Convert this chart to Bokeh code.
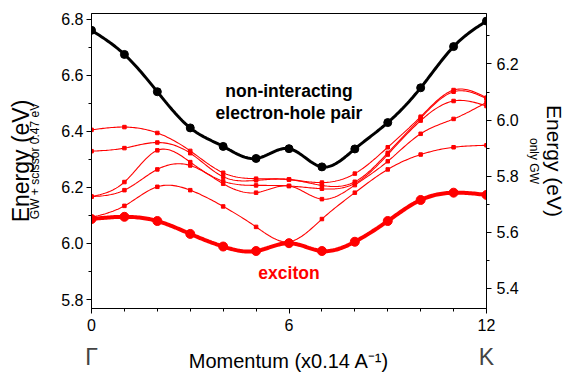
import numpy as np
from bokeh.plotting import figure
from bokeh.models import Range1d, LinearAxis, FixedTicker, Label, PrintfTickFormatter
from bokeh.embed import file_html
from bokeh.resources import INLINE

# ---------------- data ----------------
momentum = list(range(13))
pair = [6.760, 6.674, 6.541, 6.412, 6.346, 6.303, 6.338, 6.273, 6.337, 6.431, 6.555, 6.702, 6.793]
exciton = [6.087, 6.095, 6.080, 6.034, 5.989, 5.973, 6.001, 5.973, 6.006, 6.080, 6.155, 6.181, 6.173]
band_a = [6.405, 6.415, 6.394, 6.330, 6.252, 6.231, 6.228, 6.217, 6.249, 6.343, 6.452, 6.547, 6.520]
band_b = [6.329, 6.340, 6.360, 6.322, 6.238, 6.225, 6.228, 6.207, 6.220, 6.323, 6.447, 6.541, 6.517]
band_c = [6.167, 6.219, 6.332, 6.290, 6.222, 6.207, 6.205, 6.195, 6.214, 6.317, 6.438, 6.508, 6.490]
band_d = [6.167, 6.190, 6.264, 6.278, 6.213, 6.181, 6.205, 6.158, 6.208, 6.293, 6.391, 6.444, 6.503]
band_e = [6.093, 6.134, 6.202, 6.190, 6.132, 6.059, 6.006, 6.087, 6.181, 6.264, 6.317, 6.343, 6.350]

left_ticks = [5.8, 6.0, 6.2, 6.4, 6.6, 6.8]
right_ticks = [5.4, 5.6, 5.8, 6.0, 6.2]
x_ticks = [0, 6, 12]
point_labels = {0: "Γ", 12: "K"}


def spline(xs, ys, n=20):
    """Natural cubic spline used only to draw the smooth connecting line."""
    x = np.asarray(xs, float)
    y = np.asarray(ys, float)
    h = np.diff(x)
    m = len(x)
    A = np.zeros((m, m))
    r = np.zeros(m)
    A[0, 0] = A[-1, -1] = 1.0
    for i in range(1, m - 1):
        A[i, i - 1] = h[i - 1]
        A[i, i] = 2 * (h[i - 1] + h[i])
        A[i, i + 1] = h[i]
        r[i] = 6 * ((y[i + 1] - y[i]) / h[i] - (y[i] - y[i - 1]) / h[i - 1])
    M = np.linalg.solve(A, r)
    xo, yo = [], []
    for i in range(m - 1):
        t = np.linspace(x[i], x[i + 1], n, endpoint=(i == m - 2))
        hi = h[i]
        s = (M[i] * (x[i + 1] - t) ** 3 / (6 * hi) + M[i + 1] * (t - x[i]) ** 3 / (6 * hi)
             + (y[i] / hi - M[i] * hi / 6) * (x[i + 1] - t)
             + (y[i + 1] / hi - M[i + 1] * hi / 6) * (t - x[i]))
        xo.extend(t.tolist())
        yo.extend(s.tolist())
    return xo, yo


FONT = "Liberation Sans"
W, H = 568, 374
FL, FR, FT, FB = 91, 488, 13, 309   # frame edges in page pixels

p = figure(width=W, height=H, output_backend="svg", toolbar_location=None,
           x_range=Range1d(0, 12), y_range=Range1d(5.768, 6.820),
           min_border_left=FL, min_border_right=W - FR, min_border_top=FT, min_border_bottom=H - FB)
p.extra_y_ranges = {"right": Range1d(5.328, 6.380)}
p.xgrid.visible = False
p.ygrid.visible = False
p.outline_line_color = "black"
p.outline_line_width = 1
p.background_fill_color = "white"
p.border_fill_color = "white"


def style_axis(ax, standoff=3):
    ax.axis_line_color = "black"
    ax.major_tick_line_color = "black"
    ax.minor_tick_line_color = "black"
    ax.major_tick_in = 0
    ax.major_tick_out = 5
    ax.minor_tick_in = 0
    ax.minor_tick_out = 3
    ax.major_label_text_font = FONT
    ax.major_label_text_font_size = "16px"
    ax.major_label_text_color = "black"
    ax.major_label_standoff = standoff
    ax.axis_label_text_font = FONT
    ax.axis_label_text_font_style = "normal"
    ax.axis_label_text_color = "black"


def label_only_axis(ax, text, size, standoff):
    ax.axis_line_color = None
    ax.major_tick_line_color = None
    ax.minor_tick_line_color = None
    ax.major_tick_in = 0
    ax.major_tick_out = 0
    ax.minor_tick_in = 0
    ax.minor_tick_out = 0
    ax.major_label_standoff = 0
    ax.axis_label = text
    ax.axis_label_text_font = FONT
    ax.axis_label_text_font_style = "normal"
    ax.axis_label_text_font_size = size
    ax.axis_label_text_color = "black"
    ax.axis_label_standoff = standoff


# bottom axis
xa = p.xaxis[0]
style_axis(xa, 5)
xa.ticker = FixedTicker(ticks=x_ticks, minor_ticks=momentum)

# second bottom axis: Γ / K point names and the axis title
xb = LinearAxis(ticker=FixedTicker(ticks=list(point_labels.keys())))
label_only_axis(xb, "Momentum (x0.14 A⁻¹)", "20px", -23)
xb.major_label_overrides = point_labels
xb.major_label_text_font = FONT
xb.major_label_text_font_size = "23px"
xb.major_label_standoff = 10
p.add_layout(xb, "below")

# left axis
ya = p.yaxis[0]
style_axis(ya, 3)
ya.ticker = FixedTicker(ticks=left_ticks, minor_ticks=[round(5.8 + 0.1 * i, 1) for i in range(11)])
ya.formatter = PrintfTickFormatter(format="%.1f")
ya.axis_label = "GW + scissor 0.47 eV"
ya.axis_label_text_font_size = "12px"
ya.axis_label_standoff = 16

yb = LinearAxis(ticker=FixedTicker(ticks=[]))
label_only_axis(yb, "Energy (eV)", "23px", -8)
p.add_layout(yb, "left")

# right axis
rax = LinearAxis(y_range_name="right",
                 ticker=FixedTicker(ticks=right_ticks, minor_ticks=[round(5.3 + 0.1 * i, 1) for i in range(11)]),
                 formatter=PrintfTickFormatter(format="%.1f"))
style_axis(rax, 5)
rax.axis_label = "only GW"
rax.axis_label_text_font_size = "12px"
rax.axis_label_standoff = 5
p.add_layout(rax, "right")

rb = LinearAxis(y_range_name="right", ticker=FixedTicker(ticks=[]))
label_only_axis(rb, "Energy (eV)", "21px", -1)
p.add_layout(rb, "right")

# thin red bands
for band in [band_a, band_b, band_c, band_d, band_e]:
    sx, sy = spline(momentum, band)
    p.line(sx, sy, line_color="#ff0000", line_width=1.1)
    p.scatter(momentum, band, marker="square", size=3.5, fill_color="#ff0000", line_color="#ff0000")

# exciton
sx, sy = spline(momentum, exciton)
p.line(sx, sy, line_color="#ff0000", line_width=4)
p.scatter(momentum, exciton, marker="circle", size=9, fill_color="#ff0000", line_color="#ff0000")

# non-interacting pair
sx, sy = spline(momentum, pair)
p.line(sx, sy, line_color="black", line_width=3)
p.scatter(momentum, pair, marker="circle", size=8, fill_color="black", line_color="black")

# annotations in data space
p.add_layout(Label(x=6.0, y=6.542, text="non-interacting", text_align="center", text_baseline="middle",
                   text_font=FONT, text_font_style="bold", text_font_size="17.5px", text_color="black"))
p.add_layout(Label(x=6.0, y=6.464, text="electron-hole pair", text_align="center", text_baseline="middle",
                   text_font=FONT, text_font_style="bold", text_font_size="17.5px", text_color="black"))
p.add_layout(Label(x=6.0, y=5.896, text="exciton", text_align="center", text_baseline="middle",
                   text_font=FONT, text_font_style="bold", text_font_size="17.5px", text_color="#ff0000"))

open("out.html", "w").write(file_html(p, INLINE))
